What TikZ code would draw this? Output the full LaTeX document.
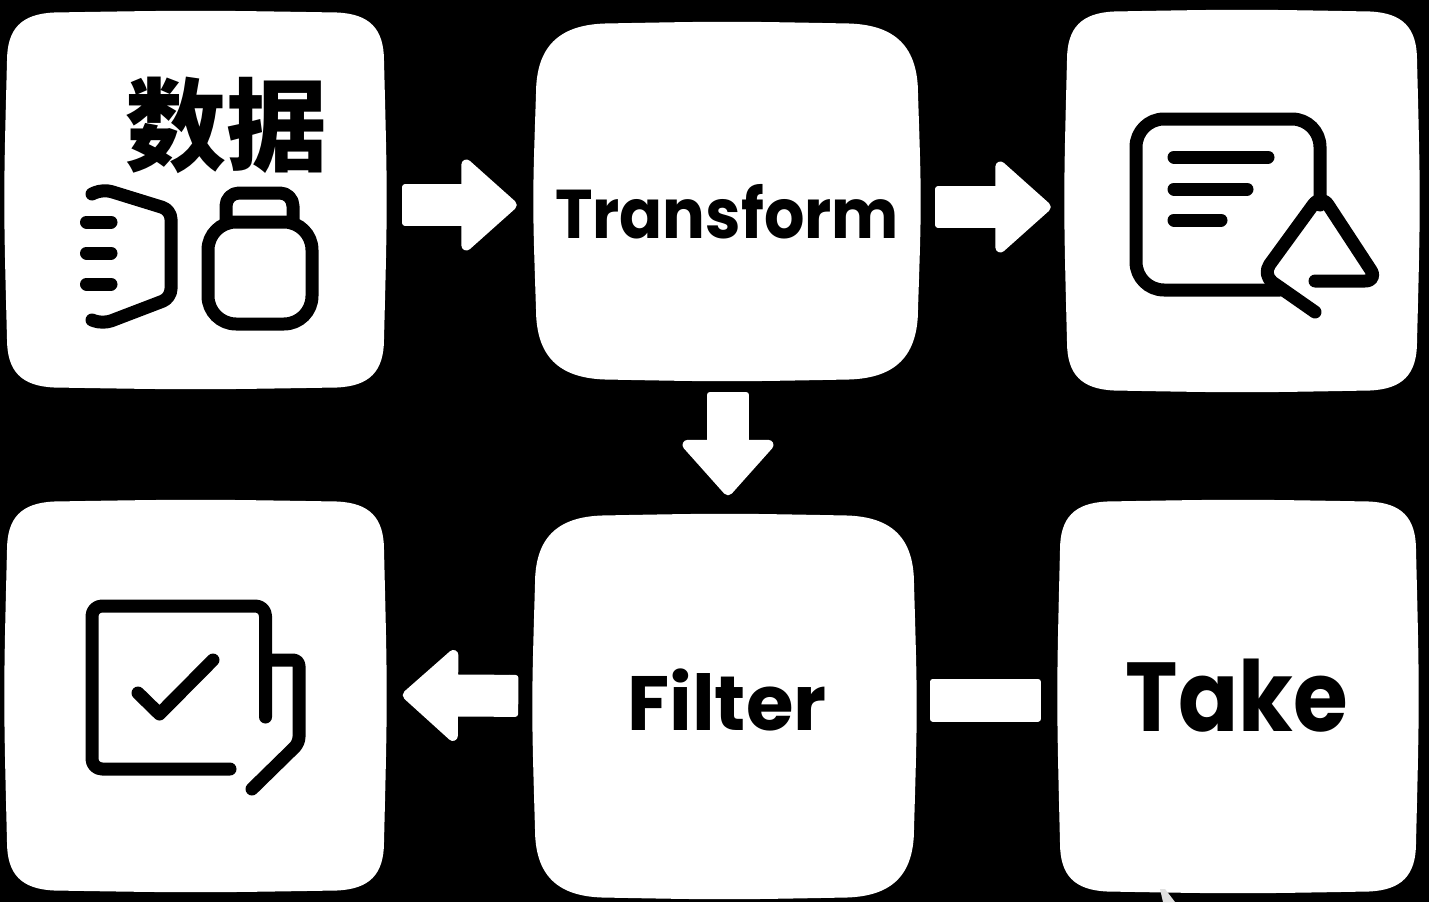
\documentclass[tikz,border=0pt]{standalone}
\usepackage{fontspec}
\setmainfont{Poppins}
\newfontfamily\cjk{Noto Sans CJK SC}
\usetikzlibrary{arrows.meta,calc}
\newcommand{\sqbox}[5]{% L T R B r
  \fill[white] ({#1+#5},{#2+1.5})
    .. controls ({(#1+#3)/2},{#2-.8}) .. ({#3-#5},{#2+1.5})
    .. controls ({#3-.35*#5},{#2+3}) and ({#3-3},{#2+.35*#5}) .. ({#3-3},{#2+#5})
    .. controls ({#3+.6},{(#2+#4)/2}) .. ({#3-3},{#4-#5})
    .. controls ({#3-3},{#4-.35*#5}) and ({#3-.35*#5},{#4-3}) .. ({#3-#5},{#4-1.5})
    .. controls ({(#1+#3)/2},{#4+.8}) .. ({#1+#5},{#4-1.5})
    .. controls ({#1+.35*#5},{#4-3}) and ({#1+3},{#4-.35*#5}) .. ({#1+3},{#4-#5})
    .. controls ({#1-.6},{(#2+#4)/2}) .. ({#1+3},{#2+#5})
    .. controls ({#1+3},{#2+.35*#5}) and ({#1+.35*#5},{#2+3}) .. cycle;}
\tikzset{
  flow/.style={draw=white,line width=42pt,{Square[width=42pt,length=12pt,round,line width=7pt,fill=white]}-{Triangle[width=101pt,length=58pt,round,line width=10pt,fill=white]}},
  plainbar/.style={draw=white,line width=43pt,{Square[width=43pt,length=12pt,round,line width=7pt,fill=white]}-{Square[width=43pt,length=12pt,round,line width=7pt,fill=white]}},
  icon/.style={draw=black,line width=13pt,line cap=round,line join=round},
}
\begin{document}
\begin{tikzpicture}[x=1pt,y=-1pt]
\useasboundingbox (0,0) rectangle (1429,902);
\fill[black] (0,0) rectangle (1429,902);
\sqbox{4}{11}{387}{389}{50}
\sqbox{533}{22}{921}{381}{72}
\sqbox{1064}{10}{1420}{392}{50}
\sqbox{4}{500}{387}{892}{50}
\sqbox{532}{514}{917}{899}{70}
\sqbox{1057}{500}{1419}{893}{50}
\fill[black!12] (1160,889) -- (1165,889) -- (1175,902) -- (1163,902) -- cycle;
% boxes as named nodes
\node[minimum width=382pt,minimum height=378pt,inner sep=0pt] (data) at (196,200) {};
\node[minimum width=388pt,minimum height=359pt,inner sep=0pt] (transform) at (727,201) {};
\node[minimum width=356pt,minimum height=382pt,inner sep=0pt] (check) at (1242,201) {};
\node[minimum width=383pt,minimum height=392pt,inner sep=0pt] (result) at (196,696) {};
\node[minimum width=385pt,minimum height=385pt,inner sep=0pt] (filter) at (724,706) {};
\node[minimum width=362pt,minimum height=393pt,inner sep=0pt] (take) at (1238,696) {};
% labels
\node[inner sep=0pt,text=black] (lbldata) at (226,125) {\cjk\bfseries\fontsize{101}{101}\selectfont 数据};
\node[inner sep=0pt,text=black] (lbltransform) at (727,212) {\scalebox{0.92}[1]{\bfseries\fontsize{69}{69}\selectfont Transform}};
\node[inner sep=0pt,text=black] (lblfilter) at (727,700) {\bfseries\fontsize{77}{77}\selectfont Filter};
\node[inner sep=0pt,text=black] (lbltake) at (1237,696) {\scalebox{0.905}[1]{\bfseries\fontsize{98}{98}\selectfont Take}};
% connectors
\draw[flow,shorten <=15pt,shorten >=16pt] ($(data.east)+(0,5)$) -- ($(transform.west)+(0,4)$);
\draw[flow,shorten <=14pt,shorten >=13pt] ($(transform.east)+(0,6)$) -- ($(check.west)+(0,6)$);
\draw[flow,shorten <=11pt,shorten >=18pt] ($(transform.south)+(1,0)$) -- ($(filter.north)+(4,0)$);
\draw[flow,shorten <=13pt,shorten >=15pt] ($(filter.west)+(0,-10)$) -- ($(result.east)+(0,-1)$);
\draw[plainbar,shorten <=13pt,shorten >=16pt] ($(filter.east)+(0,-6)$) -- ($(take.west)+(0,4)$);
% data icon
\draw[icon,rounded corners=9pt] (92,194) -- (103,189) -- (171,210) -- (171,298) -- (103,324) -- (92,320);
\draw[icon] (86.5,222) -- (111,222) (86.5,253) -- (111,253) (86.5,284) -- (111,284);
\draw[icon] (208,250) arc[start angle=180,end angle=270,radius=28] -- (284,222) arc[start angle=-90,end angle=0,radius=28] -- (312,296) arc[start angle=0,end angle=90,radius=28] -- (236,324) arc[start angle=90,end angle=180,radius=28] -- cycle;
\draw[icon,rounded corners=13pt] (226,219) -- (226,193) -- (293,193) -- (293,219);
% check icon
\draw[icon,rounded corners=28pt] (1320,205) -- (1320,119) -- (1136,119) -- (1136,290) -- (1280,290);
\draw[icon] (1174,157) -- (1268,157) (1174,189) -- (1247,189) (1174,220) -- (1221,220);
\draw[icon,rounded corners=13pt] (1315,312) -- (1262,275) -- (1321,194) -- (1378,281) -- (1315,281);
% result icon
\draw[icon,rounded corners=10pt] (265.5,717) -- (265.5,606) -- (92,606) -- (92,769) -- (230,769);
\draw[icon,rounded corners=6pt] (268,660) -- (299,660) -- (299,743) -- (252,789);
\draw[icon] (138,693) -- (159.5,714) -- (213,660);
\end{tikzpicture}
\end{document}
